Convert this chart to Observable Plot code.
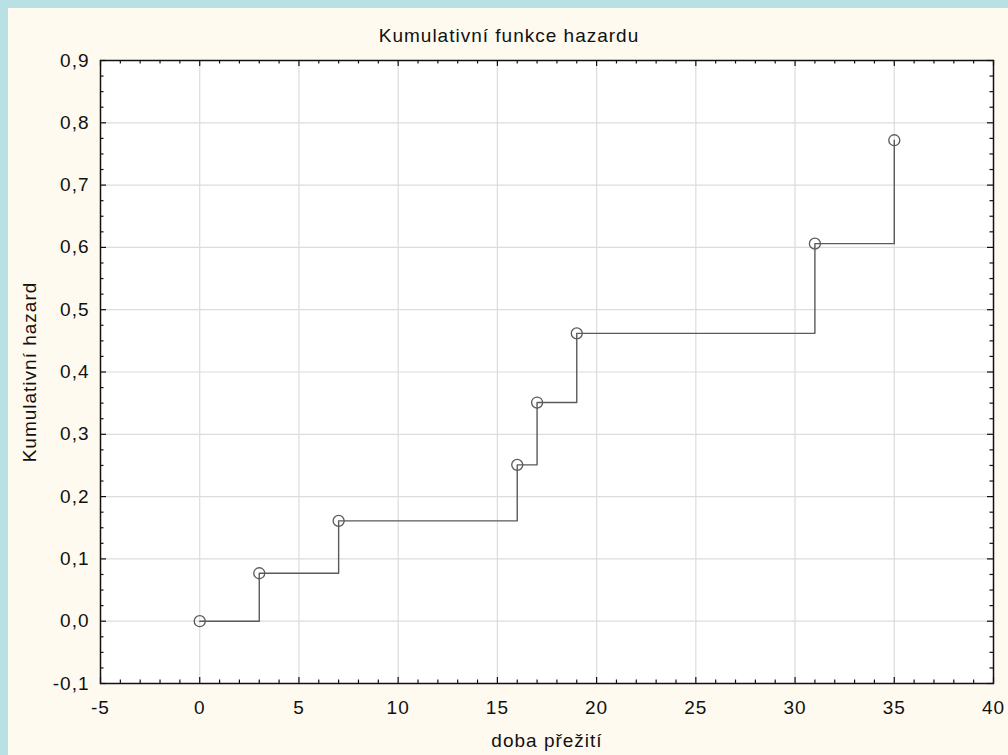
<!DOCTYPE html>
<html>
<head>
<meta charset="utf-8">
<script src="https://cdn.jsdelivr.net/npm/d3@7"></script>
<script src="https://cdn.jsdelivr.net/npm/@observablehq/plot@0.6"></script>
<style>
  html, body { margin: 0; padding: 0; background: #b9e0e3; width: 1008px; height: 755px; overflow: hidden; }
  #panel { position: absolute; left: 8px; top: 8px; width: 1000px; height: 747px; background: #fffaf0; }
</style>
</head>
<body>
<div id="panel"></div>
<script>
// Data
const times = [0, 3, 7, 16, 17, 19, 31, 35];
const hazard = [0.000, 0.077, 0.161, 0.251, 0.351, 0.462, 0.606, 0.772];

const title = "Kumulativní funkce hazardu";
const xLabel = "doba přežití";
const yLabel = "Kumulativní hazard";

const xMajor = [-5, 0, 5, 10, 15, 20, 25, 30, 35, 40];
const yMajor = [-0.1, 0.0, 0.1, 0.2, 0.3, 0.4, 0.5, 0.6, 0.7, 0.8, 0.9];
const xMinor = d3.range(-5, 41, 1).filter(v => v % 5 !== 0);
const yMinor = d3.range(0, 41).map(i => -0.1 + i * 0.025).filter((v, i) => i % 4 !== 0);

const data = times.map((t, i) => ({t, h: hazard[i]}));

const W = 1000, H = 747;
const mL = 92, mR = 15, mT = 52, mB = 72;
const fW = W - mL - mR, fH = H - mT - mB;
const majorLen = 6, minorLen = 3.5;

const yFmt = d => (d < -1e-9 ? "-" : "") + Math.abs(d).toFixed(1).replace(".", ",");

const tickStroke = "#111";

const chart = Plot.plot({
  width: W,
  height: H,
  marginLeft: mL,
  marginRight: mR,
  marginTop: mT,
  marginBottom: mB,
  style: {
    background: "transparent",
    fontFamily: "'Liberation Sans', Arial, sans-serif",
    fontSize: "19px",
    letterSpacing: "1px",
    color: "#111"
  },
  x: {domain: [-5, 40]},
  y: {domain: [-0.1, 0.9]},
  marks: [
    // background of plotting area
    Plot.frame({fill: "white", stroke: null}),
    // grid
    Plot.ruleX(xMajor.slice(1, -1), {stroke: "#dcdcdc", strokeWidth: 1.2}),
    Plot.ruleY(yMajor.slice(1, -1), {stroke: "#dcdcdc", strokeWidth: 1.2}),
    // inward ticks: bottom & top (x), left & right (y)
    Plot.ruleX(xMajor, {insetTop: fH - majorLen, stroke: tickStroke, strokeWidth: 1.2}),
    Plot.ruleX(xMajor, {insetBottom: fH - majorLen, stroke: tickStroke, strokeWidth: 1.2}),
    Plot.ruleX(xMinor, {insetTop: fH - minorLen, stroke: tickStroke, strokeWidth: 1.2}),
    Plot.ruleX(xMinor, {insetBottom: fH - minorLen, stroke: tickStroke, strokeWidth: 1.2}),
    Plot.ruleY(yMajor, {insetRight: fW - majorLen, stroke: tickStroke, strokeWidth: 1.2}),
    Plot.ruleY(yMajor, {insetLeft: fW - majorLen, stroke: tickStroke, strokeWidth: 1.2}),
    Plot.ruleY(yMinor, {insetRight: fW - minorLen, stroke: tickStroke, strokeWidth: 1.2}),
    Plot.ruleY(yMinor, {insetLeft: fW - minorLen, stroke: tickStroke, strokeWidth: 1.2}),
    // axes labels (no tick lines)
    Plot.axisX(xMajor, {tickSize: 0, tickPadding: 16.5, label: null, tickFormat: d => String(d), fill: "#111"}),
    Plot.axisY(yMajor, {tickSize: 0, tickPadding: 11, label: null, tickFormat: yFmt, fill: "#111"}),
    // step line and circles
    Plot.line(data, {x: "t", y: "h", curve: "step-after", stroke: "#5a5a5a", strokeWidth: 1.4}),
    Plot.dot(data, {x: "t", y: "h", r: 5.5, stroke: "#5a5a5a", strokeWidth: 1.3, fill: "none"}),
    // frame
    Plot.frame({stroke: "#111", strokeWidth: 1.5}),
    // titles
    Plot.text([title], {frameAnchor: "top", dx: -38, dy: -25, lineAnchor: "middle", textAnchor: "middle", text: d => d, fill: "#111"}),
    Plot.text([xLabel], {frameAnchor: "bottom", dy: 57, lineAnchor: "middle", textAnchor: "middle", text: d => d, fill: "#111"}),
    Plot.text([yLabel], {frameAnchor: "left", dx: -71, rotate: -90, lineAnchor: "middle", textAnchor: "middle", text: d => d, fill: "#111"})
  ]
});

document.getElementById("panel").appendChild(chart);
</script>
</body>
</html>
